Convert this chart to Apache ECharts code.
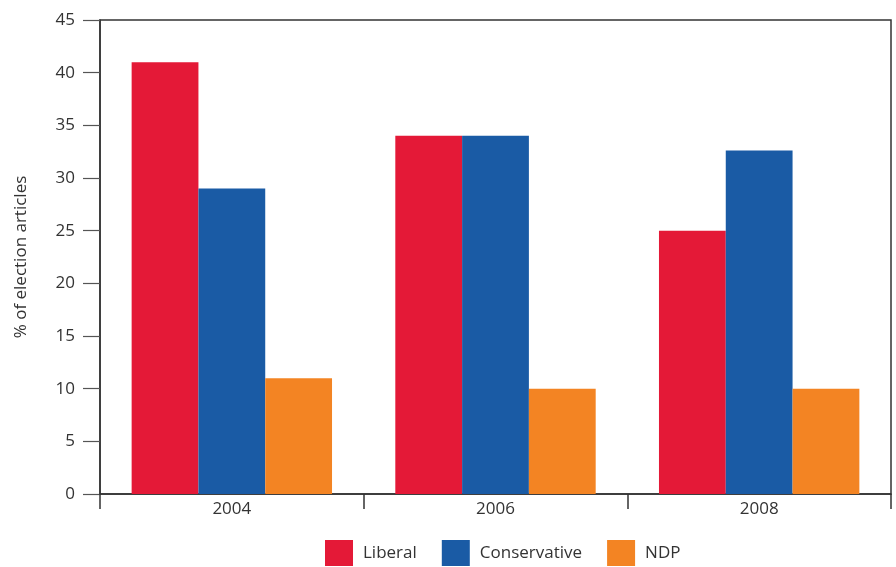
<!DOCTYPE html>
<html><head><meta charset="utf-8">
<script src="https://cdn.jsdelivr.net/npm/echarts@6/dist/echarts.min.js"></script>
<style>html,body{margin:0;padding:0;background:#fff}#c{width:896px;height:567px}</style>
</head><body><div id="c"></div>
<script>
const categories = ['2004', '2006', '2008'];
const liberal = [41, 34, 25];
const conservative = [29, 34, 32.6];
const ndp = [11, 10, 10];
const seriesNames = ['Liberal', 'Conservative', 'NDP'];
const colors = ['#E41937', '#1A5BA5', '#F38423'];
const font = '"Open Sans", Lato, sans-serif';

const chart = echarts.init(document.getElementById('c'));
chart.setOption({
  animation: false,
  color: colors,
  grid: { left: 100, right: 5, top: 20, bottom: 73, show: true, borderColor: '#333', borderWidth: 1.5 },
  legend: {
    top: 540, left: 325, padding: 0, itemWidth: 28, itemHeight: 26, itemGap: 25,
    icon: 'rect',
    textStyle: { fontFamily: font, fontSize: 17, color: '#333', padding: [0, 0, 0, 5] },
    data: seriesNames
  },
  xAxis: {
    type: 'category', data: categories,
    axisLine: { lineStyle: { color: '#333', width: 1.5 } },
    axisTick: { show: true, length: 15, alignWithLabel: false, lineStyle: { color: '#333', width: 1.5 } },
    axisLabel: { fontFamily: font, fontSize: 17, color: '#333', margin: 7 }
  },
  yAxis: {
    type: 'value', min: 0, max: 45, interval: 5,
    name: '% of election articles', nameLocation: 'middle', nameGap: 70,
    nameTextStyle: { fontFamily: font, fontSize: 17, color: '#333' },
    axisLine: { show: true, lineStyle: { color: '#333', width: 1.5 } },
    axisTick: { show: true, inside: false, length: 17, lineStyle: { color: '#555', width: 1.2 } },
    splitLine: { show: false },
    axisLabel: { fontFamily: font, fontSize: 17, color: '#333', margin: 25 }
  },
  series: [
    { name: seriesNames[0], type: 'bar', data: liberal, barGap: '0%', barCategoryGap: '24%' },
    { name: seriesNames[1], type: 'bar', data: conservative, barGap: '0%', barCategoryGap: '24%' },
    { name: seriesNames[2], type: 'bar', data: ndp, barGap: '0%', barCategoryGap: '24%' }
  ]
});
</script></body></html>
